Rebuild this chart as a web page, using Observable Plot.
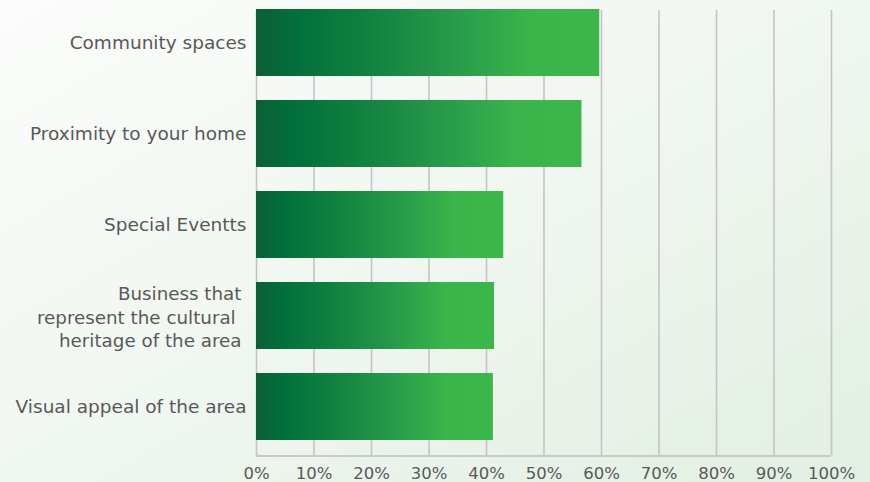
<!DOCTYPE html>
<html>
<head>
<meta charset="utf-8">
<script src="https://cdn.jsdelivr.net/npm/d3@7"></script>
<script src="https://cdn.jsdelivr.net/npm/@observablehq/plot@0.6"></script>
<style>
  html, body { margin: 0; padding: 0; }
  body {
    width: 870px; height: 482px; overflow: hidden;
    background: linear-gradient(to bottom right, #fbfcfb 0%, #f0f6f0 50%, #e2efe2 100%);
  }
  #chart svg { background: transparent; display: block; }
  #chart svg text { white-space: pre; }
</style>
</head>
<body>
<div id="chart"></div>
<script>
const categories = [
  "Community spaces",
  "Proximity to your home",
  "Special Eventts",
  "Business that\nrepresent the cultural \nheritage of the area",
  "Visual appeal of the area"
];
const values = [59.7, 56.6, 43.0, 41.4, 41.2];
const tickValues = [0, 10, 20, 30, 40, 50, 60, 70, 80, 90, 100];
const tickLabels = ["0%", "10%", "20%", "30%", "40%", "50%", "60%", "70%", "80%", "90%", "100%"];

const data = categories.map((c, i) => ({cat: c, value: values[i]}));
const singleLine = data.filter(d => !d.cat.includes("\n"));
const multiLine = data.filter(d => d.cat.includes("\n"));
const lastCat = categories[categories.length - 1];

const font = "'DejaVu Sans', sans-serif";

const plot = Plot.plot({
  width: 870,
  height: 482,
  marginLeft: 256,
  marginRight: 39,
  marginTop: 10,
  marginBottom: 27,
  style: {background: "transparent", fontFamily: font, color: "#595959"},
  x: {domain: [0, 100], axis: null},
  y: {type: "band", domain: categories, range: [0, 449], paddingInner: 0.264, paddingOuter: 0.099, axis: null},
  marks: [
    Plot.ruleX(tickValues, {stroke: "#c4c4c4", strokeWidth: 1.6}),
    Plot.barX(data, {x: "value", y: "cat", fill: "url(#barGrad)"}),
    Plot.ruleY([lastCat], {y: d => d, x1: 0, x2: 100, dy: 49, stroke: "#c9c9c9", strokeWidth: 2}),
    Plot.text(singleLine, {x: 0, y: "cat", text: "cat", textAnchor: "end", dx: -10, fontSize: 18.5, fill: "#595959", fontFamily: font}),
    Plot.text(multiLine, {x: 0, y: "cat", text: "cat", textAnchor: "end", dx: -15, fontSize: 18.3, lineHeight: 1.28, fill: "#595959", fontFamily: font}),
    Plot.text(tickValues, {x: d => d, y: () => lastCat, text: (d, i) => tickLabels[i], dy: 67, fontSize: 16.5, fill: "#595959", fontFamily: font})
  ]
});

const defs = d3.select(plot).insert("defs", ":first-child");
const grad = defs.append("linearGradient")
  .attr("id", "barGrad").attr("x1", "0").attr("y1", "0").attr("x2", "1").attr("y2", "0");
[
  [0, "#0c5f37"], [0.12, "#02703a"], [0.3, "#0f7f3e"], [0.5, "#219247"],
  [0.65, "#2da34b"], [0.8, "#3ab54a"], [1, "#3bb64b"]
].forEach(([o, c]) => grad.append("stop").attr("offset", o).attr("stop-color", c));

document.getElementById("chart").appendChild(plot);
</script>
</body>
</html>
